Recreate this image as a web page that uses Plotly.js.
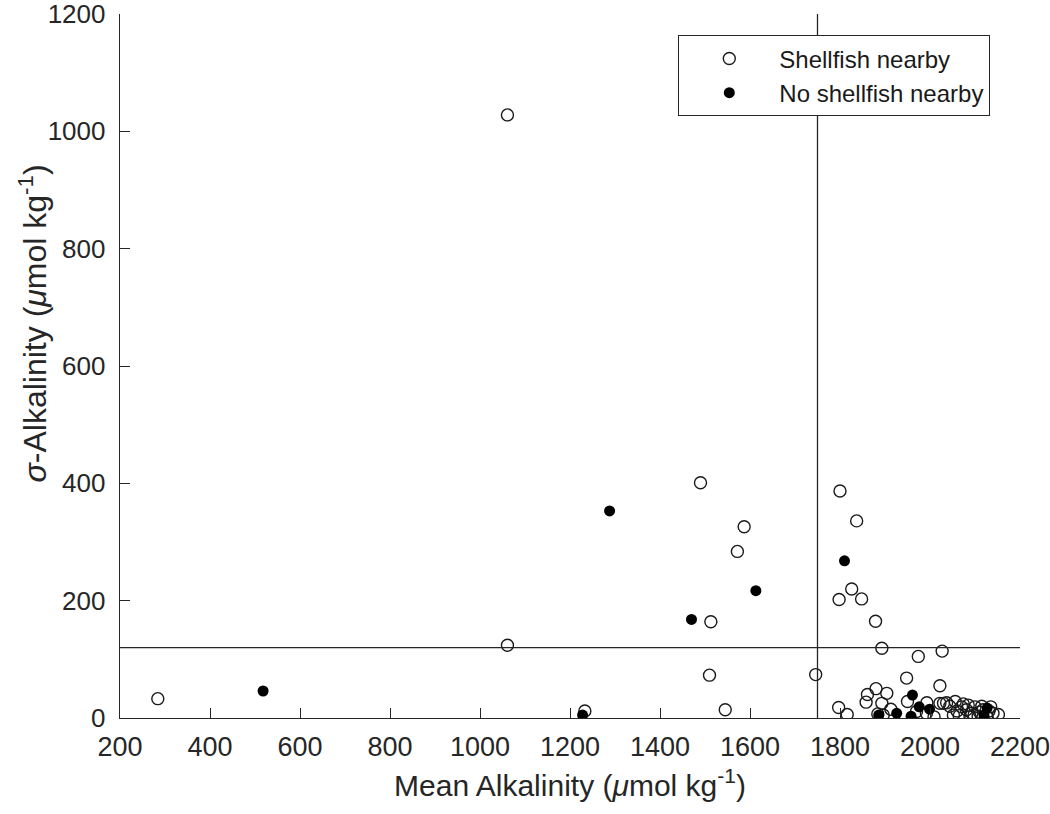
<!DOCTYPE html>
<html>
<head>
<meta charset="utf-8">
<script src="https://cdn.plot.ly/plotly-3.0.1.min.js"></script>
<style>
  html, body { margin: 0; padding: 0; background: #fff; }
  #chart { width: 1050px; height: 814px; }
</style>
</head>
<body>
<div id="chart"></div>
<script>
// mean alkalinity / sigma alkalinity, sites with shellfish nearby (open circles)
const shellX = [284, 1061, 1061, 1233, 1490, 1587, 1572, 1513, 1510, 1545,
    1746, 1800, 1837, 1798, 1826, 1848, 1879, 1893, 1974, 2027,
    1948, 2022, 1880, 1861, 1904, 1858, 1797, 1816, 1893, 1884,
    1913, 1950, 1993, 2009, 1970, 2022, 2037, 2056, 2052, 2070,
    2081, 2093, 2100, 2089, 2107, 2118, 2135, 2126, 2152, 2074,
    2044, 1896, 1992, 2030, 2060, 2085, 2110, 2098, 2065, 2115,
    2140, 2131];
const shellY = [33, 1028, 124, 12, 401, 326, 284, 164, 73, 14,
    74, 387, 336, 202, 220, 203, 165, 119, 105, 114,
    68, 55, 50, 40, 42, 27, 18, 6, 25, 7,
    15, 28, 26, 2, 11, 25, 26, 28, 5, 19,
    14, 8, 19, 2, 3, 14, 19, 3, 6, 24,
    20, 5, 8, 25, 12, 22, 10, 5, 4, 20,
    8, 12];

// sites without shellfish nearby (filled circles)
const noShellX = [518, 1228, 1288, 1470, 1613, 1810, 1886, 1926, 1958, 1961, 1976, 1999, 2127, 2120];
const noShellY = [46, 5, 353, 168, 217, 268, 5, 8, 3, 39, 19, 15, 17, 5];

// threshold lines
const meanCut = 1750;
const sigmaCut = 120;

const xTicks = [200, 400, 600, 800, 1000, 1200, 1400, 1600, 1800, 2000, 2200];
const yTicks = [0, 200, 400, 600, 800, 1000, 1200];

const axisColor = '#262626';
const fontFam = 'Liberation Sans, Arial, sans-serif';

const traces = [
    {
        x: shellX,
        y: shellY,
        mode: 'markers',
        type: 'scatter',
        name: 'Shellfish nearby',
        marker: {
            symbol: 'circle-open',
            size: 12,
            color: '#1a1a1a',
            line: { width: 1.4, color: '#1a1a1a' }
        }
    },
    {
        x: noShellX,
        y: noShellY,
        mode: 'markers',
        type: 'scatter',
        name: 'No shellfish nearby',
        marker: {
            symbol: 'circle',
            size: 11,
            color: '#000'
        }
    }
];

const layout = {
    width: 1050,
    height: 814,
    margin: { l: 120, r: 30, t: 14, b: 96 },
    paper_bgcolor: '#fff',
    plot_bgcolor: '#fff',
    font: { family: fontFam, color: axisColor, size: 26 },
    showlegend: true,
    xaxis: {
        range: [200, 2200],
        tickvals: xTicks,
        ticks: 'inside',
        ticklen: 10,
        tickwidth: 1,
        tickcolor: axisColor,
        showline: true,
        linecolor: axisColor,
        linewidth: 1.3,
        showgrid: false,
        zeroline: false,
        ticklabelstandoff: 4,
        ticklabeloverflow: 'allow',
        tickfont: { size: 27 },
        title: { text: 'Mean Alkalinity (<i>μ</i>mol kg<sup>-1</sup>)', font: { size: 30 }, standoff: 14 }
    },
    yaxis: {
        range: [0, 1200],
        tickvals: yTicks,
        ticks: 'inside',
        ticklen: 10,
        tickwidth: 1,
        tickcolor: axisColor,
        showline: true,
        linecolor: axisColor,
        linewidth: 1.3,
        showgrid: false,
        zeroline: false,
        ticklabelstandoff: 8,
        ticklabeloverflow: 'allow',
        tickfont: { size: 26 }
    },
    annotations: [
        {
            text: '<i>σ</i>-Alkalinity (<i>μ</i>mol kg<sup>-1</sup>)',
            xref: 'paper', yref: 'paper',
            x: -0.097, y: 0.56,
            xanchor: 'center', yanchor: 'middle',
            textangle: -90,
            showarrow: false,
            font: { size: 32, color: axisColor }
        }
    ],
    shapes: [
        { type: 'line', xref: 'x', yref: 'y', x0: meanCut, x1: meanCut, y0: 0, y1: 1200,
          line: { color: axisColor, width: 1.3 } },
        { type: 'line', xref: 'x', yref: 'y', x0: 200, x1: 2200, y0: sigmaCut, y1: sigmaCut,
          line: { color: axisColor, width: 1.3 } }
    ],
    legend: {
        x: 0.62,
        y: 0.97,
        xanchor: 'left',
        yanchor: 'top',
        bgcolor: '#fff',
        bordercolor: axisColor,
        borderwidth: 1.3,
        itemwidth: 90,
        font: { size: 24, color: '#1a1a1a' },
        tracegroupgap: 0
    }
};

Plotly.newPlot('chart', traces, layout, { displayModeBar: false, staticPlot: true });
</script>
</body>
</html>
